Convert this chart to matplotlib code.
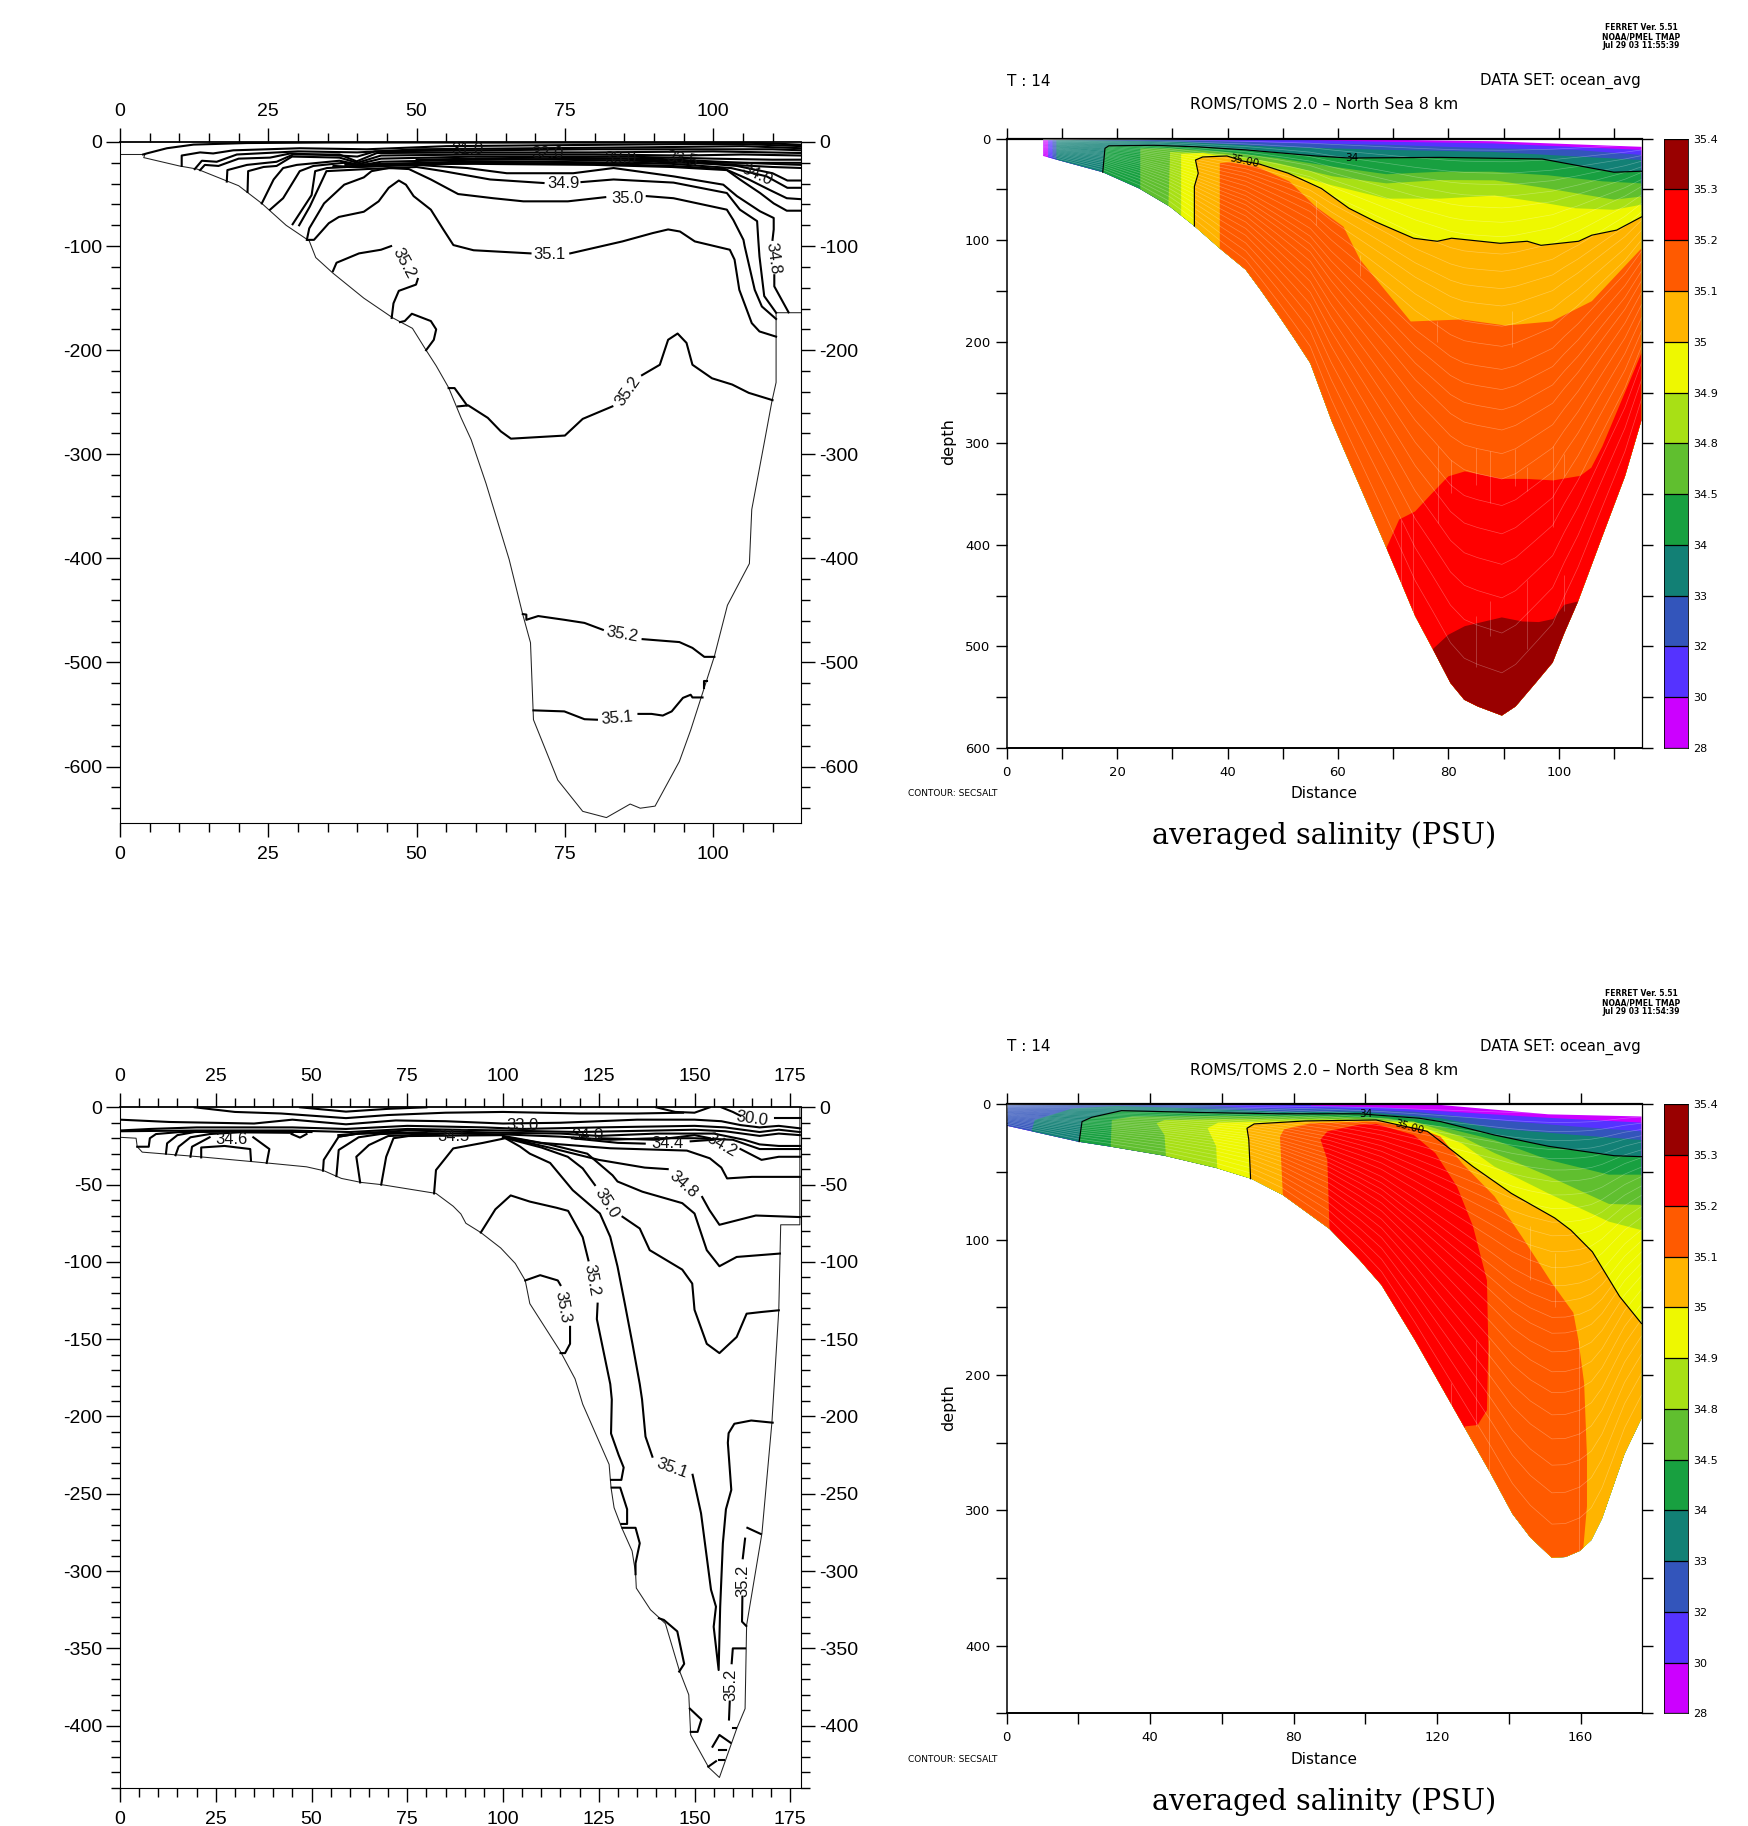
import numpy as np
import matplotlib
matplotlib.use("Agg")
import matplotlib.pyplot as plt
from matplotlib.colors import ListedColormap
from matplotlib.patches import Polygon

W, H = 1748, 1826
plt.rcParams['font.family'] = ['Liberation Sans', 'DejaVu Sans']
plt.rcParams['axes.unicode_minus'] = False

# ---- colour bar ----
cb_labels = ['28', '30', '32', '33', '34', '34.5', '34.8', '34.9', '35', '35.1', '35.2', '35.3', '35.4']
cb_colors = ['#CC00FF', '#5533FF', '#3355BB', '#128075', '#18A040', '#60BF2F', '#A8E015',
             '#EEF800', '#FFB400', '#FF5A00', '#FF0000', '#990000']
sigma = [.02, .04, .06, .08, .10, .12, .145, .17, .20, .23, .26, .29, .325, .36, .40, .435, .47,
         .505, .546, .59, .636, .685, .738, .796, .857, .926]

# ---- top left panel: bottom line and contours ----
a_bathy = [(0, -12), (4.2, -12), (4, -15), (10, -23), (13, -26), (20, -42), (23.9, -59), (28, -80), (31.9, -95),
           (33, -111), (35.9, -126), (41.1, -150), (46, -169), (49.3, -179), (51.6, -200), (53.3, -215), (55.4, -236),
           (57.5, -265), (59.2, -286), (61.7, -328), (65.6, -401), (67.9, -454), (69.2, -481), (69.7, -555),
           (73.8, -613), (78, -643), (82, -649), (86, -636), (87.7, -640), (90.2, -638), (94.3, -595), (96.2, -565),
           (100.2, -494), (102.4, -445), (106.1, -405), (106.5, -353), (108.7, -286), (109.9, -249), (110.6, -231),
           (110.6, -164), (115, -164)]
a_352_main = [(57, -254), (58.7, -253), (62, -265), (64.2, -278), (65.9, -285), (75, -282), (78, -266), (83, -254)]
a_352_main2 = [(88, -224), (91, -214), (92.4, -190), (94, -184), (95.5, -193), (96.5, -214), (99.8, -227),
               (103.2, -233), (106, -241), (110, -248)]
a_352_step = [(55.4, -236.4), (56.4, -236.4), (58.5, -253)]
a_352_lobe = [(35.9, -124), (36.5, -116), (40.3, -107), (44, -103.5), (45.7, -100)]
a_352_lobe2 = [(50.2, -131.6), (49.9, -137), (47, -143), (46.1, -155), (45.8, -169)]
a_352_bump = [(47.2, -173), (48, -172), (49.2, -165), (52.4, -172), (53.3, -180), (52.9, -190), (51.6, -200)]
a_351 = [(31.6, -94), (32.7, -94), (35.2, -78), (36.9, -72), (41.1, -67), (43.6, -57), (45.3, -44), (47, -37),
         (48.2, -41), (49.5, -52), (52.4, -65), (54.5, -84), (56.2, -99), (59.6, -104), (69.2, -107)]
a_351b = [(75.9, -107), (84.7, -95.5), (89.8, -87.5), (92.4, -84), (94.4, -86), (96.9, -95.5), (102.8, -103.5),
          (103.6, -113), (104.4, -142), (106.5, -174), (107.8, -182), (110.6, -187)]
a_350 = [(31.5, -94), (31.9, -83), (34.4, -59), (37.8, -41), (41.1, -34), (42.4, -28), (45.3, -25), (48.7, -26),
         (52.4, -36), (57, -50), (62.9, -54), (68, -57), (75.5, -57), (81.8, -53)]
a_350b = [(88.8, -52), (93.3, -54), (102.3, -65), (103.4, -75), (105.1, -94), (105.3, -100), (107, -142),
          (108.2, -158), (110.6, -170)]
a_349 = [(30.2, -80), (32, -62), (34.8, -28), (41.6, -26), (50, -24), (54.5, -28), (62.4, -36), (71.4, -39.4)]
a_349b = [(77.8, -38.5), (83.2, -36), (93.3, -39), (102.3, -49), (104.5, -65), (107.4, -76), (107.6, -94),
          (107.8, -110), (108.6, -148), (110.6, -164)]
a_348 = [(29.1, -79), (32.3, -51), (32.9, -28), (34.9, -25), (41.6, -23), (50, -22), (58.5, -25), (65.2, -30),
         (76.4, -30), (83.2, -25), (93.3, -33), (101.7, -41), (104, -52), (107.9, -66.6), (110.2, -73), (110.2, -84),
         (110, -94)]
a_348b = [(110.3, -128), (110.3, -138.7), (112.7, -163.6)]
a_c1 = [(115, -66), (112.4, -66), (110.2, -59), (107.9, -49), (104.5, -36), (102.3, -27), (93, -24), (80, -22),
        (60, -21), (45, -21), (38, -24)]
a_c2 = [(115, -55), (112.4, -54), (109.5, -46), (106, -36), (102, -26), (93, -23), (80, -21), (60, -20), (40, -24), (36, -23)]
a_c3 = [(115, -44), (112.5, -44), (109, -33), (103, -25), (93, -21), (80, -19.5), (60, -18.5), (45, -21), (38, -22)]
a_c4 = [(115, -37), (112.5, -37), (110, -30), (104, -23), (93, -18), (80, -17.5), (60, -16)]
a_c5 = [(115, -25), (110, -24), (100, -21), (90, -19), (75, -21), (60, -20), (50, -21), (40, -24), (36, -24)]
a_c6 = [(115, -22), (105, -20), (90, -16), (70, -15), (50, -17)]
a_l1 = [(3.9, -12), (4.5, -11), (7.9, -6), (12.4, -2.5), (21.4, -1), (35, -.5), (50, -.5), (62, -.6), (90, -.5),
        (105, -.5), (110, -1.5), (115, -2.6)]
a_l2 = [(10.4, -23), (10.4, -13), (13.5, -10), (15.7, -11), (19.1, -8), (30.3, -6), (41.6, -7), (55, -4), (75, -3),
        (95, -2), (105, -2), (110, -3), (115, -4)]
a_l3 = [(12.6, -26), (13.8, -18), (16.3, -19), (19.7, -12), (30, -9), (40, -10), (50, -7), (70, -6), (90, -5),
        (105, -4), (110, -5), (115, -6)]
a_l4 = [(13.5, -27), (14.3, -22), (16.6, -23), (20, -16), (25.3, -15), (28.7, -11), (37, -13), (40, -14), (43, -9),
        (60, -8), (80, -7), (100, -7), (110, -7), (115, -8)]
a_l5 = [(18, -38), (18.1, -27), (21.4, -22), (24.7, -20), (26.4, -19), (29.2, -12), (37, -12), (39.9, -18.6),
        (43.3, -10.6), (60, -10), (80, -10), (100, -9), (115, -10.6)]
a_l6 = [(21.5, -48), (21.6, -28), (24.2, -24), (26.4, -23), (29, -14), (37, -15), (40, -20), (44, -13), (60, -12),
        (80, -12), (95, -13), (105, -12), (115, -13)]
a_l7 = [(23.9, -59), (25.9, -36), (27.5, -25), (29.8, -22), (37, -18), (40, -21.5), (44, -16), (60, -14), (85, -14),
        (100, -16), (110, -17), (115, -17)]
a_l8 = [(25.3, -65), (27.5, -54), (30.3, -28), (32.6, -23), (37.7, -20), (40, -23), (44, -19), (60, -17), (85, -16),
        (100, -20), (110, -20), (115, -20)]
a_deep352 = [(67.9, -453.5), (68.5, -454), (68.5, -459), (70.5, -455.4), (74.9, -459), (78.3, -462), (81.4, -468.6)]
a_deep352b = [(88.1, -477.6), (94.3, -480.4), (96.5, -486), (98.5, -494.6), (100.2, -494.6)]
a_deep351 = [(69.7, -546), (74.9, -547), (78.3, -554.5), (80.4, -555)]
a_deep351b = [(87.4, -549.4), (89.6, -549.4), (91.5, -551), (93, -547), (94.9, -534), (96.2, -531), (96.5, -533.6),
              (98.2, -533.6)]
a_deep_bit = [(98.5, -524.7), (98.5, -518), (98.9, -518)]
a_lines = [a_352_main, a_352_main2, a_352_step, a_352_lobe, a_352_lobe2, a_352_bump, a_351, a_351b, a_350, a_350b,
           a_349, a_349b, a_348, a_348b, a_c1, a_c2, a_c3, a_c4, a_c5, a_c6, a_l1, a_l2, a_l3, a_l4, a_l5, a_l6, a_l7,
           a_l8, a_deep352, a_deep352b, a_deep351, a_deep351b, a_deep_bit]
a_labels = [('35.0', 85.6, -54, 0), ('34.9', 74.7, -40, 0), ('35.1', 72.4, -108, 0), ('35.2', 47.8, -116, -62),
            ('35.2', 85.7, -239, 55), ('34.8', 110, -111.5, -82), ('35.2', 84.7, -473, -10), ('35.1', 83.8, -553, 5),
            ('34.0', 107.4, -31, -25), ('31.0', 58.5, -7, 0), ('32.0', 72, -11, 0), ('33.0', 84.3, -16, 0),
            ('33.5', 94.8, -17, -10)]

# ---- bottom left panel ----
c_bathy = [(0, -19.4), (4.2, -20), (4.5, -25.5), (5.8, -29), (20.8, -32), (38.3, -36), (48.7, -38.5), (53.2, -41),
           (57.8, -46), (63, -48.6), (68.2, -50), (82.5, -55.7), (87, -64), (89, -69), (90.3, -75), (94.2, -81),
           (99.4, -91), (103.2, -101), (105.8, -112), (107, -127), (115, -158), (118.8, -175.6), (120.8, -192),
           (127.7, -231), (128.2, -246), (129, -259), (131, -272), (133.7, -287), (134.6, -301), (134.8, -311),
           (138.5, -325), (140.7, -330), (142.4, -334), (146, -364), (148.5, -380), (149, -406), (153.7, -427),
           (156.5, -433.5), (161, -402), (163.2, -389), (163.6, -335), (167.6, -275.6), (170.2, -204), (172, -131),
           (172.5, -76), (177.5, -76), (177.5, 0)]
c_a = [(19.5, 0), (30, -3), (42, -4), (59, -7), (70, -5), (85, -3.5), (100, -3), (120, -4), (135, -4), (147, -3.5)]
c_b = [(47, 0), (59, -2.8), (70, -1), (80, 0)]
c_b2 = [(140, 0), (145, -3), (150, -3.5), (154, 0)]
c_c = [(157, 0), (160, -3), (162, -5.5)]
c_c2 = [(171, -7), (177.5, -7)]
c_d = [(0, -8), (13, -9.5), (35, -10.5), (45, -8), (59, -11), (72, -8.5), (85, -9), (100, -10.5), (115, -10), (135, -8),
       (150, -8), (157, -9), (162, -11.5), (167, -13), (172, -12), (177.5, -13.6)]
c_e = [(0, -15), (8, -14), (20, -13), (45, -13), (59, -14), (75, -12), (95, -13), (105, -14), (125, -13), (150, -12),
       (158, -13), (167, -16), (172, -14.5), (177.5, -16)]
c_f = [(0, -15.5), (20, -15), (45, -15), (60, -16), (75, -14), (100, -15), (120, -16), (150, -14.5), (158, -15.5),
       (167, -18.5), (172, -17), (177.5, -18)]
c_g = [(57, -18), (62, -17), (75, -15), (100, -16.5), (115, -17), (125, -18.5), (140, -17), (155, -17), (163, -21),
       (167, -24), (172, -25), (177.5, -25)]
c_h = [(57.1, -19), (62, -17), (75, -16.5), (100, -17.5), (115, -19), (128, -21), (140, -20), (150, -20), (160, -21),
       (167, -27), (172, -27), (177.5, -27)]
c_s1 = [(4.5, -25.5), (7.5, -25.5), (7.8, -20), (9.4, -17.3), (15.6, -16), (30, -15.7), (50, -16)]
c_s2 = [(12, -30), (12.3, -23.3), (15, -18), (19.5, -16), (26, -15.5), (45, -16)]
c_s3 = [(14.5, -31), (15.3, -25.5), (18.4, -19.4), (23.4, -17.3), (31, -16.2), (45, -16.5)]
c_s4 = [(18.4, -32), (18.8, -25.5), (23.4, -19.4)]
c_s4b = [(34.8, -19.4), (39, -27), (38.3, -36)]
c_s5 = [(21.2, -32.4), (21.2, -26), (27.3, -25), (34, -27), (34.2, -34.5)]
c_dip = [(44.8, -17.3), (47, -19.6), (48.7, -17.3)]
c_r1 = [(53, -41), (53.2, -34), (57.1, -19), (62.3, -17), (70, -16)]
c_r2 = [(56.5, -44.5), (57.1, -27.6), (62.3, -19.4), (68, -17.3), (80, -16.5)]
c_r3 = [(62.7, -48.6), (61.7, -32), (65, -24.4), (70, -18.6), (85, -17)]
c_r4 = [(68.2, -50), (69.5, -32), (71.4, -20), (75.3, -18.6), (100, -18)]
c_351 = [(82, -55.7), (82.5, -40.6), (87, -26.6), (94.8, -23), (100.6, -20), (104.5, -25.5), (107, -30), (112.3, -36),
         (118.2, -53.6), (125.3, -68.7), (128, -83.8), (129.9, -103), (131.8, -127), (133.8, -153), (135.7, -179),
         (136.3, -189), (137.2, -213), (139, -226)]
c_351b = [(149.5, -237.7), (151.7, -262.6), (154.3, -312), (155.6, -323), (155, -336), (156.3, -364), (156.7, -323),
          (157.4, -282), (158.2, -260), (159.6, -247.5), (158.7, -217), (158.9, -210.8), (160.4, -204.7),
          (164.8, -202.6), (170.4, -204)]
c_350 = [(100, -19.5), (110, -26), (116.9, -32), (120.8, -39.5), (124, -50.3)]
c_350b = [(131.2, -70.8), (135.7, -78.4), (138.3, -92.4), (146.8, -105), (149.4, -114), (150, -131), (153.2, -153),
          (156.5, -159), (161, -148.6), (163.6, -133.5), (167.5, -132.4), (172, -131.3)]
c_349 = [(100, -19), (112, -24), (122, -30), (128.6, -44), (129.9, -48), (136.4, -54.6), (146.8, -62), (150, -68.7),
         (153.2, -92.4), (156.5, -102.8), (161, -96.8), (172.3, -94.6)]
c_348 = [(100, -19), (112, -26), (125, -34), (137, -39), (143, -40)]
c_348b = [(152, -58), (153.9, -66.5), (156.5, -76), (166, -70), (177.5, -71)]
c_347 = [(100, -18.5), (110, -23), (128, -26.5), (148, -28), (154, -33), (157, -39), (158.5, -46), (165, -45), (177.5, -45)]
c_344 = [(118, -20), (130, -23), (137, -23.5)]
c_344b = [(149, -22), (155, -21)]
c_342 = [(125, -20), (140, -21), (150, -18), (154, -20)]
c_342b = [(162, -27), (167.5, -34), (172, -32), (177.5, -32)]
c_352 = [(94.2, -81), (98, -66), (102, -57), (107, -61), (114, -65), (117, -67), (120.8, -84), (122.3, -99)]
c_352b = [(124.7, -127), (124.5, -137), (128, -179), (128.4, -189), (128.2, -211), (130.2, -225), (131.5, -233),
          (130.9, -241), (128.2, -241)]
c_352c = [(128.4, -246), (130.6, -246), (132.4, -260), (132.4, -269.5), (130.9, -269.5)]
c_352d = [(131.2, -272), (134.6, -272), (135.7, -282), (134.6, -295), (134.6, -302)]
c_352e = [(140.7, -330.5), (142, -331.6), (145.5, -339), (147.3, -360), (146, -365)]
c_352f = [(148.8, -389), (151.8, -396), (150.8, -404), (149, -404)]
c_352g = [(154.7, -413.6), (156.5, -406), (159.4, -411)]
c_352h = [(156.5, -415.7), (158.2, -415.7)]
c_352i = [(156.5, -422), (157.8, -422)]
c_352j = [(153.6, -426.5), (155.6, -423)]
c_352k = [(160, -401.7), (160.9, -401.7)]
c_352l = [(163.8, -272), (167.3, -276)]
c_352m = [(163.2, -279), (162.6, -291.7)]
c_352n = [(162.5, -316.5), (162.4, -332.7), (163.5, -335.5)]
c_352o = [(163.2, -350), (160, -350), (159.7, -359.6)]
c_352p = [(159.2, -384.4), (159, -396)]
c_353 = [(105.8, -112), (109.7, -108.6), (114.3, -112), (115, -115)]
c_353b = [(117.5, -142), (117.5, -153), (116.2, -159), (115, -159)]
c_lines = [c_a, c_b, c_b2, c_c, c_c2, c_d, c_e, c_f, c_g, c_h, c_s1, c_s2, c_s3, c_s4, c_s4b, c_s5, c_dip, c_r1, c_r2,
           c_r3, c_r4, c_351, c_351b, c_350, c_350b, c_349, c_348, c_348b, c_347, c_344, c_344b, c_342, c_342b, c_352,
           c_352b, c_352c, c_352d, c_352e, c_352f, c_352g, c_352h, c_352i, c_352j, c_352k, c_352l, c_352m, c_352n,
           c_352o, c_352p, c_353, c_353b]
c_labels = [('34.5', 87, -18.6, 0), ('33.0', 105, -11.5, 0), ('34.0', 122, -18, 0), ('34.4', 142.9, -23.3, 0),
            ('34.2', 157, -24.4, -30), ('30.0', 165, -7.5, -8), ('34.6', 29, -20.7, 0), ('35.0', 127, -62, -58),
            ('34.8', 147, -50, -42), ('35.2', 123.1, -112, -80), ('35.3', 115.6, -129, -80),
            ('35.1', 144.2, -233.4, -20), ('35.2', 162.6, -306, 90), ('35.2', 159.6, -373.6, 90)]

# ---- top right panel: each level's outline, filled from low to high ----
b_surface = [(6.6, 0), (50, 0), (69, 1), (88, 2.5), (115, 8)]
b_bathy = [(6.6, 17), (17.4, 33), (24, 49), (29.6, 67), (34, 86), (38.6, 108), (43.3, 129), (46, 149), (49, 172), (52, 196),
           (55, 221), (58.8, 277), (61, 305), (65, 355), (68.8, 403), (71.5, 437.6), (74, 470), (77.2, 502.6), (80.4, 536),
           (82.9, 552.5), (85.3, 559), (89.7, 568), (92.2, 559), (95.8, 536), (98.9, 515.8), (101, 487), (103.5, 455.7),
           (107.9, 391.6), (112, 332.5), (115, 277)]
b_30 = [(7.5, 20), (7.5, 0), (49, .7), (69, 3), (88, 4.6), (115, 11)]
b_32 = [(8.3, 20), (8.3, 0), (31.6, 1.3), (49, 4), (69, 6), (88, 9.5), (103, 11), (115, 16)]
b_33 = [(9, 20), (9, 1), (31.6, 3), (49, 8), (69, 11), (88, 13), (115, 21)]
b_34 = [(17.4, 33), (17.8, 9.5), (18.5, 7), (26.7, 6.5), (34.5, 8), (43.3, 11), (56, 17), (62, 19), (78.6, 18.4),
        (97, 20), (103, 26), (110, 33), (115, 32)]
b_345 = [(24.2, 49), (24.2, 9.5), (29.6, 9.5), (39.4, 13), (49, 19), (59, 27.5), (68.8, 35), (78.6, 32.5), (88, 32.5),
         (98, 36), (108, 42), (115, 44)]
b_348 = [(29.3, 65), (29.6, 13), (39.4, 15), (49, 24), (59, 37), (68.8, 44), (78.6, 40.7), (88.4, 41), (98, 49),
         (110, 60), (115, 57)]
b_349 = [(31.6, 75), (31.6, 15), (35.5, 14), (39.4, 18), (49, 31), (59, 46), (68.8, 59), (78.6, 59), (88.4, 56),
         (98.2, 64), (103, 68.5), (110, 70), (115, 65)]
b_350 = [(34, 86), (34, 47), (34.7, 34), (34.2, 21), (35.5, 18), (39.9, 17), (42.8, 22), (45.8, 25), (51, 34), (57, 49),
         (62, 68.5), (66.9, 82), (73.7, 98), (78, 101), (80.6, 98), (89.4, 103), (94.3, 101), (96.8, 105), (103.6, 101),
         (106, 95), (110.5, 90), (115, 77)]
b_351 = [(38.6, 108), (38.6, 24), (40.4, 23), (45.3, 27.5), (51.2, 42), (56, 67), (61, 86.6), (64, 119), (73.2, 180),
         (82.5, 178), (90.4, 184), (98.7, 180), (106, 160), (115, 108)]
b_352 = [(68.8, 403), (71.1, 375), (74, 367), (76.8, 350.6), (80, 332.5), (83, 327.6), (89.7, 335), (94.2, 335),
         (99, 336.5), (103.9, 332), (105.9, 324), (107.9, 303), (115, 211)]
b_353 = [(77.2, 502.6), (80, 488.5), (83, 480), (89.7, 471.4), (93.4, 475.4), (96.4, 476), (99, 473), (101, 459),
         (103.5, 455.7)]
b_levels = [b_30, b_32, b_33, b_34, b_345, b_348, b_349, b_350, b_351, b_352, b_353]
b_vgrid = [(71.4, 375, 500), (73.6, 370, 470), (78.2, 303, 378), (80.4, 316, 349), (85.1, 305, 341), (85.1, 470, 520),
           (87.5, 308, 359), (87.5, 455, 490), (92, 306, 342), (94.3, 323, 347), (94.3, 435, 503), (98.9, 303, 382),
           (101, 310, 332), (101, 430, 465), (56, 60, 85), (64, 115, 135), (78, 180, 200), (91.5, 170, 205)]
b_xticks = [0, 10, 20, 30, 40, 50, 60, 70, 80, 90, 100, 110]
b_xlabels = ['0', '', '20', '', '40', '', '60', '', '80', '', '100', '']
b_yticks = [0, 50, 100, 150, 200, 250, 300, 350, 400, 450, 500, 550, 600]
b_ylabels = ['0', '', '100', '', '200', '', '300', '', '400', '', '500', '', '600']

# ---- bottom right panel ----
d_surface = [(0, 0), (121, .5), (151, 7.4), (177, 9)]
d_bathy = [(0, 15.8), (19.9, 27.6), (29, 31.3), (44, 38), (58.4, 47), (68.2, 55), (77, 67), (90, 92), (98.4, 115),
           (104.5, 133.5), (113.8, 174), (127.5, 238), (135, 273), (141, 302.5), (146, 320), (152, 335), (155.8, 334.5),
           (159.8, 330), (163, 322), (166, 306), (172.3, 258), (177, 232)]
d_30 = [(0, 0), (84.8, 0), (84.8, 1), (106, 2.5), (121, 5), (151, 10), (177, 13.5)]
d_32 = [(0, 0), (53, 0), (68, 3), (91, 3), (113.5, 5.4), (136, 11.6), (158.8, 16.5), (177, 20)]
d_33 = [(7, 19), (7.8, 11.6), (18.4, 3), (30.5, 1.2), (53, 3), (75.8, 5.4), (98.4, 5.4), (121, 10.3), (136, 17.7),
        (158.8, 22.7), (177, 26.4)]
d_34 = [(20.2, 27.6), (21, 12.8), (23.7, 9.6), (32, 4.7), (53, 6), (75.8, 7), (98.4, 7), (115, 10.3), (121, 12.8),
        (136, 22.7), (151, 31), (169.4, 38), (177, 38.7)]
d_345 = [(29, 31.3), (29.3, 11.6), (35, 9), (60.7, 8.6), (90.9, 9), (106, 10.3), (121, 16.5), (136, 26.4), (151, 41),
         (167.9, 52), (177, 52)]
d_348 = [(44.4, 38), (44, 22.7), (41.8, 14), (44, 11.6), (60.7, 11), (98.4, 11), (113.5, 12.8), (127, 24), (136, 36),
         (151, 53), (167.9, 73.6), (177, 74.4)]
d_349 = [(58.7, 47), (58.4, 31), (56, 17.7), (59, 13.5), (98.4, 11.6), (113.5, 14), (127, 29), (136, 46), (151, 65.8),
         (167.9, 86.7), (177, 93)]
d_350 = [(68, 55), (67.5, 26), (67, 17.7), (69, 14.5), (83.3, 12.3), (103, 11.6), (112.3, 17), (117.3, 20), (124, 33.7),
         (130, 46), (140.7, 65.8), (152.8, 84), (157.3, 93), (163.3, 109), (170.9, 142), (177, 162)]
d_351 = [(77, 67), (76.2, 24), (77.3, 18.5), (84.8, 14), (103, 12.6), (115, 17.7), (121, 24), (127, 43.6), (136, 68),
         (143.7, 98), (152, 132), (158, 154), (159.4, 174), (161, 206), (161.8, 260), (161.8, 297), (160.8, 327)]
d_352 = [(90, 92), (89.4, 41), (87.5, 26), (89.4, 20), (98.4, 15), (103, 14.5), (113.5, 22.7), (119.5, 36), (125.6, 61),
         (130, 90), (133.9, 130), (134.3, 179), (133.9, 226), (131.3, 237), (127.8, 238)]
d_levels = [d_30, d_32, d_33, d_34, d_345, d_348, d_349, d_350, d_351, d_352]
d_vgrid = [(130.8, 174, 238), (134.4, 174, 273), (159.5, 174, 330), (123.8, 206, 231), (153, 110, 150), (146, 90, 130)]
d_xticks = [0, 20, 40, 60, 80, 100, 120, 140, 160]
d_xlabels = ['0', '', '40', '', '80', '', '120', '', '160']
d_yticks = [0, 50, 100, 150, 200, 250, 300, 350, 400, 450]
d_ylabels = ['0', '', '100', '', '200', '', '300', '', '400', '']

fig = plt.figure(figsize=(W / 100, H / 100), dpi=100)
RIGHT_FONT = ['DejaVu Sans']


def px_axes(left, top, right, bottom):
    return fig.add_axes([left / W, 1 - bottom / H, (right - left) / W, (bottom - top) / H])


def px_text(x, y, s, **kw):
    kw.setdefault('family', RIGHT_FONT)
    fig.text(x / W, 1 - y / H, s, va='center', **kw)


def line_panel(ax, bathy, lines, labels, xlim, ylim, xmaj, xmin, ymaj, ymin):
    xs, ys = zip(*bathy)
    ax.plot(xs, ys, color='#222222', lw=0.75)
    for pts in lines:
        xs, ys = zip(*pts)
        ax.plot(xs, ys, color='black', lw=1.5)
    for s, x, y, rot in labels:
        ax.text(x, y, s, fontsize=12, rotation=rot, ha='center', va='center', color='#111111')
    ax.set_xlim(*xlim)
    ax.set_ylim(*ylim)
    ax.set_xticks(xmaj)
    ax.set_xticks(xmin, minor=True)
    ax.set_yticks(ymaj)
    ax.set_yticks(ymin, minor=True)
    ax.tick_params(which='major', length=10, width=1, labelsize=14, top=True, right=True, labeltop=True, labelright=True)
    ax.tick_params(which='minor', length=6.5, width=1, top=True, right=True)
    ax.tick_params(axis='x', which='major', pad=6)
    ax.tick_params(axis='y', which='major', pad=3)
    ax.spines['top'].set_linewidth(1.3)


def fill_panel(ax, surface, bathy, levels, contours, labels, vgrid, xlim, ylim, xticks, xlabels, yticks, ylabels):
    outline = Polygon(surface + bathy[::-1], closed=True, facecolor=cb_colors[0], edgecolor='none', zorder=1)
    ax.add_patch(outline)
    for i, lev in enumerate(levels):
        x0, x1 = lev[0][0], lev[-1][0]
        ring = lev + [(x1, ylim[0] + 100), (x0, ylim[0] + 100)]
        p = Polygon(ring, closed=True, facecolor=cb_colors[i + 1], edgecolor='none', zorder=2)
        ax.add_patch(p)
        p.set_clip_path(outline)
    bx, by = zip(*bathy)
    for s in sigma:
        ln, = ax.plot(bx, np.array(by) * s, color='white', lw=0.5, alpha=0.28, zorder=3)
        ln.set_clip_path(outline)
    ax.vlines([v[0] for v in vgrid], [v[1] for v in vgrid], [v[2] for v in vgrid], color='white', lw=0.5, alpha=0.3, zorder=3)
    for pts in contours:
        xs, ys = zip(*pts)
        ax.plot(xs, ys, color='black', lw=0.85, zorder=4)
    for s, x, y, rot in labels:
        ax.text(x, y, s, fontsize=7.5, rotation=rot, ha='center', va='center', zorder=5, family=RIGHT_FONT)
    ax.set_xlim(*xlim)
    ax.set_ylim(ylim[0], ylim[1])
    ax.set_xticks(xticks)
    ax.set_xticklabels(xlabels)
    ax.set_yticks(yticks)
    ax.set_yticklabels(ylabels)
    ax.tick_params(length=8, width=1, labelsize=9.5, top=True, right=True, pad=4, labelfontfamily='DejaVu Sans')
    ax.tick_params(axis='x', pad=5)
    ax.spines['top'].set_linewidth(1.6)
    ax.spines['bottom'].set_linewidth(1.4)
    ax.spines['left'].set_linewidth(1.1)
    ax.spines['right'].set_linewidth(0.9)


def colorbar(top, bottom):
    ax = px_axes(1664, top, 1687.5, bottom)
    ax.pcolormesh([0, 1], np.arange(13), np.arange(12)[:, None], cmap=ListedColormap(cb_colors), vmin=0, vmax=11)
    ax.hlines(np.arange(13), 0, 1, color='black', lw=0.9)
    ax.set_xticks([])
    ax.set_yticks(np.arange(13))
    ax.set_yticklabels(cb_labels)
    ax.yaxis.tick_right()
    ax.tick_params(length=0, labelsize=8, pad=4, labelfontfamily='DejaVu Sans')
    for s in ax.spines.values():
        s.set_linewidth(0.6)
    ax.set_ylim(0, 12)


# left panels
ax_a = px_axes(120, 142, 801, 823.3)
line_panel(ax_a, a_bathy, a_lines, a_labels, (0, 114.8), (-654.5, 0), np.arange(0, 101, 25), np.arange(0, 115, 5),
           np.arange(-600, 1, 100), np.arange(-640, 1, 20))
ax_c = px_axes(120, 1107.3, 801, 1788.3)
line_panel(ax_c, c_bathy, c_lines, c_labels, (0, 177.8), (-440.5, 0), np.arange(0, 176, 25), np.arange(0, 176, 5),
           np.arange(-400, 1, 50), np.arange(-440, 1, 10))

# right panels
ax_b = px_axes(1006.7, 138.7, 1641.5, 748)
fill_panel(ax_b, b_surface, b_bathy, b_levels, [b_34, b_350], [('34', 62.5, 19, 0), ('35.00', 43, 22, -12)], b_vgrid,
           (0, 115), (600, 0), b_xticks, b_xlabels, b_yticks, b_ylabels)
ax_d = px_axes(1006.7, 1104.3, 1641.5, 1713.3)
fill_panel(ax_d, d_surface, d_bathy, d_levels, [d_34, d_350], [('34', 100, 7, 0), ('35.00', 112.3, 17, -16)], d_vgrid,
           (0, 177), (450, 0), d_xticks, d_xlabels, d_yticks, d_ylabels)
colorbar(138.7, 748)
colorbar(1104.3, 1713.3)

for dy, stamp in [(0, 'Jul 29 03 11:55:39'), (965.5, 'Jul 29 03 11:54:39')]:
    px_text(1641, 28 + dy, 'FERRET Ver. 5.51', fontsize=5.5, ha='center', fontweight='bold')
    px_text(1641, 37 + dy, 'NOAA/PMEL TMAP', fontsize=5.5, ha='center', fontweight='bold')
    px_text(1641, 46 + dy, stamp, fontsize=5.5, ha='center', fontweight='bold')
    px_text(1007, 81 + dy, 'T : 14', fontsize=11)
    px_text(1641, 81 + dy, 'DATA SET: ocean_avg', fontsize=10.8, ha='right')
    px_text(1324.5, 105 + dy, 'ROMS/TOMS 2.0 \u2013 North Sea 8 km', fontsize=11.3, ha='center')
    px_text(949, 442 + dy, 'depth', fontsize=11.5, rotation=90, ha='center')
    px_text(1324, 794 + dy, 'Distance', fontsize=11, ha='center')
    px_text(908, 794 + dy, 'CONTOUR: SECSALT', fontsize=6.5)
    px_text(1324, 836 + dy, 'averaged salinity (PSU)', fontsize=20.7, ha='center', family=['DejaVu Serif'])

fig.savefig('out.png', dpi=100)
